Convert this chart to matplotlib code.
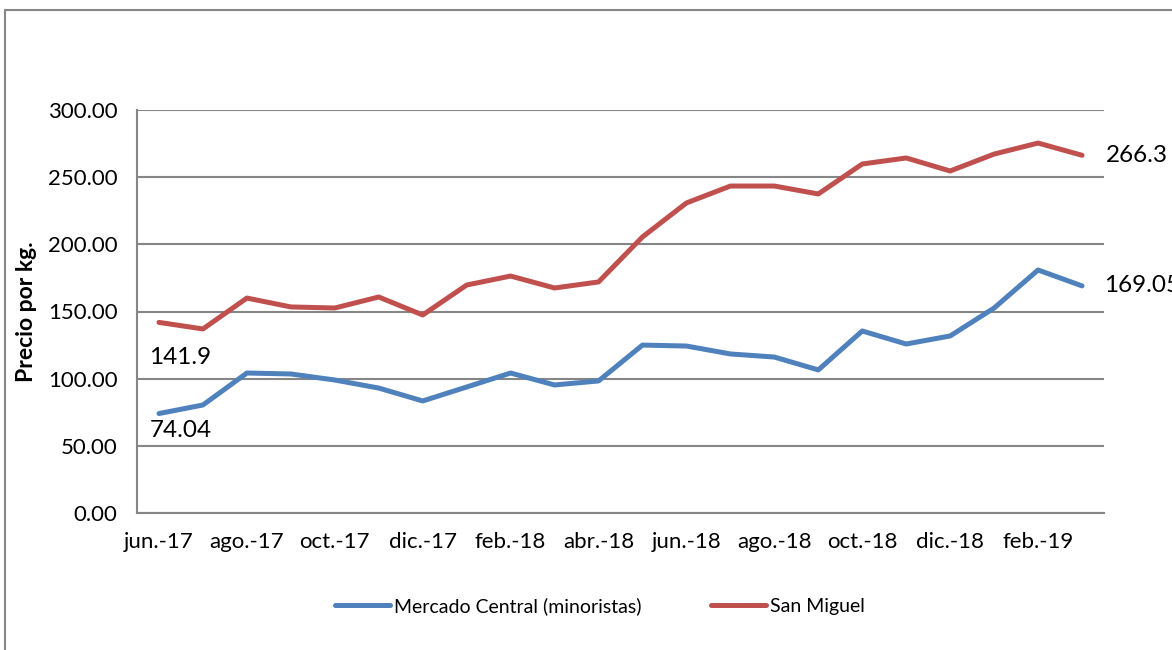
import matplotlib.pyplot as plt
from matplotlib.patches import Rectangle

plt.rcParams['font.family'] = ['Lato', 'DejaVu Sans']

meses = ['jun.-17', 'jul.-17', 'ago.-17', 'sep.-17', 'oct.-17', 'nov.-17', 'dic.-17',
         'ene.-18', 'feb.-18', 'mar.-18', 'abr.-18', 'may.-18', 'jun.-18', 'jul.-18',
         'ago.-18', 'sep.-18', 'oct.-18', 'nov.-18', 'dic.-18', 'ene.-19', 'feb.-19', 'mar.-19']
mercado_central = [74.04, 80.4, 104.2, 103.5, 99.0, 93.0, 83.4, 93.8, 104.2, 95.3, 98.3,
                   125.0, 124.3, 118.4, 116.1, 106.5, 135.5, 125.8, 131.8, 152.6, 180.9, 169.05]
san_miguel = [141.9, 137.0, 160.0, 153.4, 152.6, 160.8, 147.4, 169.7, 176.4, 167.5, 172.0,
              205.5, 230.8, 243.4, 243.4, 237.5, 259.8, 264.3, 254.6, 267.2, 275.4, 266.3]
yticks = [0, 50, 100, 150, 200, 250, 300]

azul = '#4F81BD'
rojo = '#C0504D'
gris = '#868686'

fig = plt.figure(figsize=(11.72, 6.5), dpi=100)
# marco exterior del grafico (se sale por la derecha y por abajo)
fig.patches.append(Rectangle((5 / 1172, -0.1), 1.2, 1.1 - 10 / 650, transform=fig.transFigure,
                             fill=False, edgecolor=gris, linewidth=1.5))
ax = fig.add_axes([137 / 1172, 1 - 513 / 650, (1104 - 137) / 1172, (513 - 110) / 650])

x = list(range(len(meses)))
ax.plot(x, mercado_central, color=azul, lw=3.6, solid_capstyle='round', label='Mercado Central (minoristas)')
ax.plot(x, san_miguel, color=rojo, lw=3.6, solid_capstyle='round', label='San Miguel')

ax.set_xlim(-0.5, len(meses) - 0.5)
ax.set_ylim(0, 300)
ax.set_yticks(yticks)
ax.set_yticklabels([f'{v:.2f}' for v in yticks], fontsize=16)
ax.set_xticks(x[::2])
ax.set_xticklabels(meses[::2], fontsize=16)
ax.tick_params(length=0)
ax.tick_params(axis='y', pad=14)
ax.tick_params(axis='x', pad=14)
ax.grid(axis='y', color=gris, lw=1.5)
ax.set_axisbelow(True)
for s in ['top', 'right']:
    ax.spines[s].set_visible(False)
for s in ['left', 'bottom']:
    ax.spines[s].set_color(gris)
    ax.spines[s].set_linewidth(1.5)
ax.set_ylabel('Precio por kg.', fontsize=16.5, fontweight='bold', labelpad=8)

# etiquetas de primer y ultimo valor
ax.annotate(f'{san_miguel[0]:g}', (x[0], san_miguel[0]), xytext=(-7, -18), textcoords='offset points',
            ha='left', va='top', fontsize=17.5)
ax.annotate(f'{mercado_central[0]:g}', (x[0], mercado_central[0]), xytext=(-7, -5), textcoords='offset points',
            ha='left', va='top', fontsize=17.5)
ax.annotate(f'{san_miguel[-1]:g}', (x[-1], san_miguel[-1]), xytext=(17, 0), textcoords='offset points',
            ha='left', va='center', fontsize=17.5, annotation_clip=False)
ax.annotate(f'{mercado_central[-1]:g}', (x[-1], mercado_central[-1]), xytext=(16, 0), textcoords='offset points',
            ha='left', va='center', fontsize=17.5, annotation_clip=False)

fig.legend(loc='center', bbox_to_anchor=(600 / 1172, 1 - 606 / 650), ncol=2, frameon=False,
           fontsize=14, handlelength=2.8, handletextpad=0.2, columnspacing=3.6)

fig.savefig('out.png', dpi=100)
